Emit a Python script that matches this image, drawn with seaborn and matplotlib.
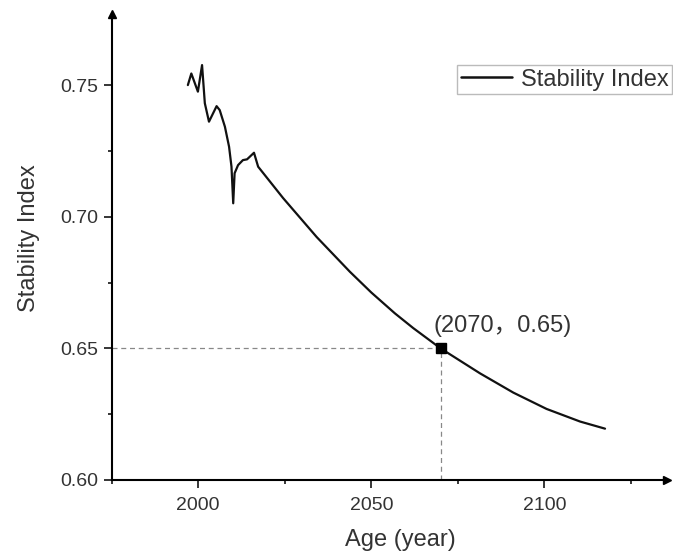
import numpy as np
import pandas as pd
import matplotlib
matplotlib.use("Agg")
import matplotlib.pyplot as plt
from matplotlib.ticker import FixedLocator, FormatStrFormatter
import seaborn as sns

# ---- data ----
years = [1997.0, 1998.0, 1999.9, 2001.1, 2001.9, 2003.1, 2005.3, 2006.2, 2007.7,
         2008.9, 2009.6, 2010.1, 2010.5, 2011.5, 2012.9, 2014.1, 2014.9, 2016.1,
         2017.3, 2024.5, 2034.2, 2043.8, 2050.0, 2056.8, 2062.1, 2070.0, 2081.4,
         2091.0, 2100.6, 2110.3, 2117.5]
stability = [0.7500, 0.7544, 0.7475, 0.7576, 0.7431, 0.7361, 0.7420, 0.7405, 0.7342,
             0.7266, 0.7190, 0.7051, 0.7165, 0.7196, 0.7215, 0.7218, 0.7228, 0.7243,
             0.7190, 0.7071, 0.6923, 0.6791, 0.6712, 0.6633, 0.6577, 0.6500, 0.6405,
             0.6332, 0.6270, 0.6222, 0.6195]
point_x = 2070
point_y = 0.65
point_label = "(2070，0.65)"
series_name = "Stability Index"
x_ticks = [2000, 2050, 2100]
x_minor = [1975, 2025, 2075, 2125]
y_ticks = [0.60, 0.65, 0.70, 0.75]
y_minor = [0.625, 0.675, 0.725]
x_label = "Age (year)"
y_label = "Stability Index"

df = pd.DataFrame({"year": years, series_name: stability})

sns.set_theme(style="ticks")
plt.rcParams["font.family"] = ["Liberation Sans", "Noto Sans CJK SC", "DejaVu Sans"]

fig = plt.figure(figsize=(6.73, 5.51), dpi=100)
left, right = 111.7 / 673, 667 / 673
bottom, top = (551 - 480) / 551, 1 - 14 / 551
ax = fig.add_axes([left, bottom, right - left, top - bottom])

txt = "#333333"
sns.lineplot(data=df, x="year", y=series_name, ax=ax, color="#111111", lw=1.6,
             label=series_name, estimator=None, sort=False)

# reference lines
ax.plot([1975, point_x], [point_y, point_y], ls=(0, (4, 3)), color="#888888", lw=0.9, zorder=1)
ax.plot([point_x, point_x], [0.60, point_y], ls=(0, (4, 3)), color="#888888", lw=0.9, zorder=1)
ax.plot([point_x], [point_y], marker="s", color="black", ms=6.5, ls="none", zorder=5)
ax.annotate(point_label, xy=(point_x, point_y), xytext=(-7, 11), textcoords="offset pixels",
            ha="left", va="bottom", fontsize=17, color=txt,
            family=["Liberation Sans", "Noto Sans CJK SC"])

ax.set_xlim(1975, 2135.4)
ax.set_ylim(0.60, 0.777)
ax.xaxis.set_major_locator(FixedLocator(x_ticks))
ax.xaxis.set_minor_locator(FixedLocator(x_minor))
ax.yaxis.set_major_locator(FixedLocator(y_ticks))
ax.yaxis.set_minor_locator(FixedLocator(y_minor))
ax.yaxis.set_major_formatter(FormatStrFormatter("%.2f"))

for s in ["top", "right"]:
    ax.spines[s].set_visible(False)
for s in ["left", "bottom"]:
    ax.spines[s].set_linewidth(1.5)
    ax.spines[s].set_color("black")

ax.tick_params(which="major", direction="out", length=6, width=1.1, color="black",
               labelsize=14, labelcolor=txt, pad=4)
ax.tick_params(axis="x", which="major", pad=6.5)
ax.tick_params(which="minor", direction="out", length=3, width=1.1, color="black")

# axis arrows
ax.plot(1, 0, ">", transform=ax.transAxes, clip_on=False, color="black", ms=6)
ax.plot(0, 1, "^", transform=ax.transAxes, clip_on=False, color="black", ms=6)

ax.set_xlabel(x_label, fontsize=17, color=txt)
ax.set_ylabel(y_label, fontsize=17, color=txt)
ax.xaxis.set_label_coords(0.52, -0.105)
ax.yaxis.set_label_coords(-0.13, 0.52)

leg = ax.legend(loc="upper right", bbox_to_anchor=(672 / 673, 1 - 65 / 551),
                bbox_transform=fig.transFigure, borderaxespad=0, fontsize=17,
                frameon=True, fancybox=False, framealpha=1, edgecolor="#bbbbbb",
                handlelength=2.2, handletextpad=0.35, borderpad=0.15)
leg.get_frame().set_linewidth(1.0)
for t in leg.get_texts():
    t.set_color(txt)
for h in leg.get_lines():
    h.set_linewidth(1.8)

fig.savefig("out.png", dpi=100, facecolor="white")
